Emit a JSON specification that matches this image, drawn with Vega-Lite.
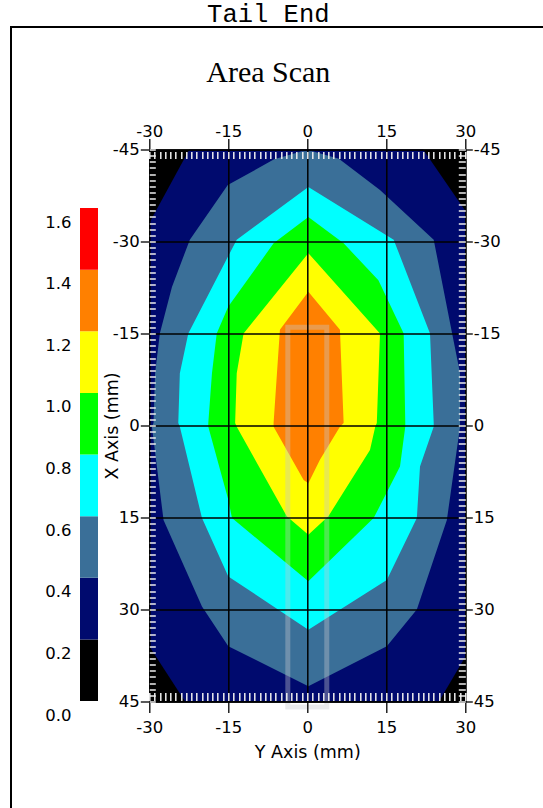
{
  "$schema": "https://vega.github.io/schema/vega-lite/v6.json",
  "width": 316,
  "height": 552,
  "autosize": {"type": "none"},
  "padding": {"left": 149.3, "top": 149.5, "right": 77.7, "bottom": 106.5},
  "background": "white",
  "title": {
    "text": "Tail End",
    "subtitle": "Area Scan",
    "anchor": "middle",
    "dx": -39,
    "font": "Liberation Mono",
    "fontSize": 25.5,
    "fontWeight": "normal",
    "color": "black",
    "subtitleFont": "Liberation Serif",
    "subtitleFontSize": 30,
    "subtitleColor": "black",
    "subtitlePadding": 31,
    "offset": -62
  },
  "datasets": {
    "contours": [
      {"level": 0.2, "i": 0, "x": -22.4, "y": -45},
      {"level": 0.2, "i": 1, "x": 22, "y": -45},
      {"level": 0.2, "i": 2, "x": 30, "y": -35},
      {"level": 0.2, "i": 3, "x": 30, "y": 37.7},
      {"level": 0.2, "i": 4, "x": 25, "y": 45},
      {"level": 0.2, "i": 5, "x": -23.2, "y": 45},
      {"level": 0.2, "i": 6, "x": -30, "y": 36},
      {"level": 0.2, "i": 7, "x": -30, "y": -33},

      {"level": 0.4, "i": 0, "x": -15.1, "y": -39.2},
      {"level": 0.4, "i": 1, "x": -6.3, "y": -43.4},
      {"level": 0.4, "i": 2, "x": -1, "y": -44.7},
      {"level": 0.4, "i": 3, "x": 1, "y": -44.7},
      {"level": 0.4, "i": 4, "x": 6, "y": -43.5},
      {"level": 0.4, "i": 5, "x": 13.8, "y": -38.4},
      {"level": 0.4, "i": 6, "x": 24, "y": -30.3},
      {"level": 0.4, "i": 7, "x": 27.5, "y": -15},
      {"level": 0.4, "i": 8, "x": 29, "y": -8.5},
      {"level": 0.4, "i": 9, "x": 29, "y": 0.2},
      {"level": 0.4, "i": 10, "x": 26.5, "y": 15.4},
      {"level": 0.4, "i": 11, "x": 20.8, "y": 30},
      {"level": 0.4, "i": 12, "x": 15.1, "y": 36},
      {"level": 0.4, "i": 13, "x": 0.2, "y": 42.5},
      {"level": 0.4, "i": 14, "x": -15, "y": 36},
      {"level": 0.4, "i": 15, "x": -20, "y": 29.5},
      {"level": 0.4, "i": 16, "x": -27.3, "y": 15.4},
      {"level": 0.4, "i": 17, "x": -29.5, "y": 0.2},
      {"level": 0.4, "i": 18, "x": -29.2, "y": -0.4},
      {"level": 0.4, "i": 19, "x": -28.9, "y": -8.5},
      {"level": 0.4, "i": 20, "x": -28, "y": -15},
      {"level": 0.4, "i": 21, "x": -25.7, "y": -22.6},
      {"level": 0.4, "i": 22, "x": -22.3, "y": -30.3},

      {"level": 0.6, "i": 0, "x": 0.2, "y": -38.9},
      {"level": 0.6, "i": 1, "x": 16.4, "y": -30.3},
      {"level": 0.6, "i": 2, "x": 23.3, "y": -15},
      {"level": 0.6, "i": 3, "x": 24, "y": -0.4},
      {"level": 0.6, "i": 4, "x": 24, "y": 0.2},
      {"level": 0.6, "i": 5, "x": 21.4, "y": 6.7},
      {"level": 0.6, "i": 6, "x": 20.8, "y": 15.1},
      {"level": 0.6, "i": 7, "x": 15.1, "y": 25.2},
      {"level": 0.6, "i": 8, "x": 0.2, "y": 33.3},
      {"level": 0.6, "i": 9, "x": -15, "y": 24.6},
      {"level": 0.6, "i": 10, "x": -20, "y": 15.1},
      {"level": 0.6, "i": 11, "x": -21.6, "y": 9.4},
      {"level": 0.6, "i": 12, "x": -24.2, "y": 0.2},
      {"level": 0.6, "i": 13, "x": -24.5, "y": -0.4},
      {"level": 0.6, "i": 14, "x": -24.2, "y": -8.5},
      {"level": 0.6, "i": 15, "x": -22.6, "y": -15},
      {"level": 0.6, "i": 16, "x": -13.4, "y": -30.3},

      {"level": 0.8, "i": 0, "x": 0.2, "y": -34},
      {"level": 0.8, "i": 1, "x": 6.9, "y": -29.7},
      {"level": 0.8, "i": 2, "x": 13.5, "y": -23.7},
      {"level": 0.8, "i": 3, "x": 18.3, "y": -15},
      {"level": 0.8, "i": 4, "x": 18.6, "y": -0.4},
      {"level": 0.8, "i": 5, "x": 18.6, "y": 0.2},
      {"level": 0.8, "i": 6, "x": 17.6, "y": 6.7},
      {"level": 0.8, "i": 7, "x": 12.6, "y": 15.1},
      {"level": 0.8, "i": 8, "x": 0.2, "y": 25.4},
      {"level": 0.8, "i": 9, "x": -14.3, "y": 15.1},
      {"level": 0.8, "i": 10, "x": -15, "y": 12.1},
      {"level": 0.8, "i": 11, "x": -18.8, "y": 0.2},
      {"level": 0.8, "i": 12, "x": -18.8, "y": -0.4},
      {"level": 0.8, "i": 13, "x": -18.1, "y": -8.5},
      {"level": 0.8, "i": 14, "x": -17.2, "y": -15},
      {"level": 0.8, "i": 15, "x": -15, "y": -19.4},
      {"level": 0.8, "i": 16, "x": -6.4, "y": -29.7},

      {"level": 1, "i": 0, "x": 0.2, "y": -28.1},
      {"level": 1, "i": 1, "x": 13.8, "y": -15},
      {"level": 1, "i": 2, "x": 13.2, "y": -0.4},
      {"level": 1, "i": 3, "x": 12.9, "y": 0.2},
      {"level": 1, "i": 4, "x": 11.9, "y": 4},
      {"level": 1, "i": 5, "x": 4, "y": 14.8},
      {"level": 1, "i": 6, "x": 0.2, "y": 17.8},
      {"level": 1, "i": 7, "x": -3.9, "y": 14.8},
      {"level": 1, "i": 8, "x": -13.4, "y": 0.2},
      {"level": 1, "i": 9, "x": -13.7, "y": -0.4},
      {"level": 1, "i": 10, "x": -13.4, "y": -8.5},
      {"level": 1, "i": 11, "x": -12.1, "y": -15},

      {"level": 1.2, "i": 0, "x": 0.2, "y": -21.8},
      {"level": 1.2, "i": 1, "x": 6.2, "y": -15.6},
      {"level": 1.2, "i": 2, "x": 6.9, "y": -0.4},
      {"level": 1.2, "i": 3, "x": 6.2, "y": 0.2},
      {"level": 1.2, "i": 4, "x": 2.4, "y": 5.6},
      {"level": 1.2, "i": 5, "x": 0.2, "y": 9.4},
      {"level": 1.2, "i": 6, "x": -0.7, "y": 8.9},
      {"level": 1.2, "i": 7, "x": -6.4, "y": 0.2},
      {"level": 1.2, "i": 8, "x": -6.4, "y": -0.4},
      {"level": 1.2, "i": 9, "x": -5.2, "y": -15.6}
    ],
    "legend": [
      {"level": 0, "hi": 0.2},
      {"level": 0.2, "hi": 0.4},
      {"level": 0.4, "hi": 0.6},
      {"level": 0.6, "hi": 0.8},
      {"level": 0.8, "hi": 1},
      {"level": 1, "hi": 1.2},
      {"level": 1.2, "hi": 1.4},
      {"level": 1.4, "hi": 1.6}
    ],
    "probe": [
      {"x1": -3.7, "x2": 3.7, "y1": -16, "y2": 45.9}
    ]
  },
  "layer": [
    {
      "data": {"values": [{}]},
      "mark": {"type": "rect", "fill": "transparent", "stroke": "black", "strokeWidth": 2},
      "encoding": {
        "x": {"datum": 0, "type": "quantitative", "scale": {"domain": [0, 1], "range": [-138.3, 420]}, "axis": null},
        "x2": {"datum": 1},
        "y": {"datum": 0, "type": "quantitative", "scale": {"domain": [0, 1], "range": [-122.5, 700]}, "axis": null},
        "y2": {"datum": 1}
      }
    },
    {
      "data": {"name": "legend"},
      "mark": {"type": "rect"},
      "encoding": {
        "x": {"datum": 0, "type": "quantitative", "scale": {"domain": [0, 1], "range": [-69.3, -51.3]}, "axis": null},
        "x2": {"datum": 1},
        "y": {
          "field": "level", "type": "quantitative",
          "scale": {"domain": [0, 1.6], "range": [551.5, 58.5], "nice": false, "zero": false},
          "axis": {"orient": "left", "offset": 69.3, "values": [0, 0.2, 0.4, 0.6, 0.8, 1, 1.2, 1.4, 1.6], "format": ".1f", "ticks": false, "domain": false, "grid": false, "labelPadding": 9, "labelOffset": 14, "title": null, "labelOverlap": false, "labelFlush": false}
        },
        "y2": {"field": "hi"},
        "fill": {"field": "level", "type": "ordinal", "scale": {"domain": [0, 0.2, 0.4, 0.6, 0.8, 1, 1.2, 1.4], "range": ["#000000", "#000a6e", "#3a6f98", "#00ffff", "#00ff00", "#ffff00", "#ff8000", "#ff0000"]}, "legend": null}
      }
    },
    {
      "resolve": {"axis": {"x": "independent", "y": "independent"}},
      "layer": [
        {
          "data": {"name": "contours"},
          "transform": [{"filter": "datum.level == 0.2"}],
          "mark": {"type": "line", "interpolate": "linear-closed", "strokeWidth": 0, "strokeOpacity": 0},
          "encoding": {
            "x": {"field": "x", "type": "quantitative", "scale": {"domain": [-30, 30], "nice": false, "zero": false},
              "axis": {"orient": "bottom", "values": [-30, -15, 0, 15, 30], "labelExpr": "'' + datum.value", "grid": true, "gridColor": "black", "gridWidth": 1.5, "gridOpacity": 1, "tickSize": 11, "tickWidth": 1.3, "labelPadding": 7, "labelFlush": false, "labelOverlap": false, "title": "Y Axis (mm)", "titlePadding": 7, "zindex": 1}},
            "y": {"field": "y", "type": "quantitative", "scale": {"domain": [-45, 45], "reverse": true, "nice": false, "zero": false},
              "axis": {"orient": "left", "values": [-45, -30, -15, 0, 15, 30, 45], "labelExpr": "'' + datum.value", "grid": true, "gridColor": "black", "gridWidth": 1.5, "gridOpacity": 1, "tickSize": 9, "tickWidth": 1.3, "labelPadding": 1, "labelFlush": false, "labelOverlap": false, "title": "X Axis (mm)", "titlePadding": -9, "zindex": 1}},
            "order": {"field": "i", "type": "quantitative"},
            "fill": {"field": "level", "type": "ordinal", "legend": null}
          }
        },
        {
          "data": {"name": "contours"},
          "transform": [{"filter": "datum.level == 0.4"}],
          "mark": {"type": "line", "interpolate": "linear-closed", "strokeWidth": 0, "strokeOpacity": 0},
          "encoding": {
            "x": {"field": "x", "type": "quantitative", "scale": {"domain": [-30, 30], "nice": false, "zero": false},
              "axis": {"orient": "top", "values": [-30, -15, 0, 15, 30], "labelExpr": "'' + datum.value", "grid": false, "tickSize": 11, "tickWidth": 1.3, "labelPadding": -1, "labelFlush": false, "labelOverlap": false, "title": null, "zindex": 1}},
            "y": {"field": "y", "type": "quantitative", "scale": {"domain": [-45, 45], "reverse": true, "nice": false, "zero": false},
              "axis": {"orient": "right", "values": [-45, -30, -15, 0, 15, 30, 45], "labelExpr": "'' + datum.value", "grid": false, "tickSize": 7, "tickWidth": 1.3, "labelPadding": 1, "labelFlush": false, "labelOverlap": false, "title": null, "zindex": 1}},
            "order": {"field": "i", "type": "quantitative"},
            "fill": {"field": "level", "type": "ordinal", "legend": null}
          }
        },
        {
          "data": {"name": "contours"},
          "transform": [{"filter": "datum.level == 0.6"}],
          "mark": {"type": "line", "interpolate": "linear-closed", "strokeWidth": 0, "strokeOpacity": 0},
          "encoding": {
            "x": {"field": "x", "type": "quantitative", "scale": {"domain": [-30, 30], "nice": false, "zero": false},
              "axis": {"orient": "bottom", "tickCount": 60, "labels": false, "domain": false, "grid": false, "tickSize": -8, "tickColor": "#eeeeee", "tickWidth": 1.5, "offset": -1, "title": null, "zindex": 2}},
            "y": {"field": "y", "type": "quantitative", "scale": {"domain": [-45, 45], "reverse": true, "nice": false, "zero": false},
              "axis": {"orient": "left", "tickCount": 90, "labels": false, "domain": false, "grid": false, "tickSize": -6, "tickColor": "#eeeeee", "tickWidth": 1.5, "offset": 0, "title": null, "zindex": 2}},
            "order": {"field": "i", "type": "quantitative"},
            "fill": {"field": "level", "type": "ordinal", "legend": null}
          }
        },
        {
          "data": {"name": "contours"},
          "transform": [{"filter": "datum.level == 0.8"}],
          "mark": {"type": "line", "interpolate": "linear-closed", "strokeWidth": 0, "strokeOpacity": 0},
          "encoding": {
            "x": {"field": "x", "type": "quantitative", "scale": {"domain": [-30, 30], "nice": false, "zero": false},
              "axis": {"orient": "top", "tickCount": 60, "labels": false, "domain": false, "grid": false, "tickSize": -7, "tickColor": "#eeeeee", "tickWidth": 1.5, "offset": -2, "title": null, "zindex": 2}},
            "y": {"field": "y", "type": "quantitative", "scale": {"domain": [-45, 45], "reverse": true, "nice": false, "zero": false},
              "axis": {"orient": "right", "tickCount": 90, "labels": false, "domain": false, "grid": false, "tickSize": -7, "tickColor": "#eeeeee", "tickWidth": 1.5, "offset": 0, "title": null, "zindex": 2}},
            "order": {"field": "i", "type": "quantitative"},
            "fill": {"field": "level", "type": "ordinal", "legend": null}
          }
        },
        {
          "data": {"name": "contours"},
          "transform": [{"filter": "datum.level == 1"}],
          "mark": {"type": "line", "interpolate": "linear-closed", "strokeWidth": 0, "strokeOpacity": 0},
          "encoding": {
            "x": {"field": "x", "type": "quantitative", "scale": {"domain": [-30, 30], "nice": false, "zero": false}, "axis": null},
            "y": {"field": "y", "type": "quantitative", "scale": {"domain": [-45, 45], "reverse": true, "nice": false, "zero": false}, "axis": null},
            "order": {"field": "i", "type": "quantitative"},
            "fill": {"field": "level", "type": "ordinal", "legend": null}
          }
        },
        {
          "data": {"name": "contours"},
          "transform": [{"filter": "datum.level == 1.2"}],
          "mark": {"type": "line", "interpolate": "linear-closed", "strokeWidth": 0, "strokeOpacity": 0},
          "encoding": {
            "x": {"field": "x", "type": "quantitative", "scale": {"domain": [-30, 30], "nice": false, "zero": false}, "axis": null},
            "y": {"field": "y", "type": "quantitative", "scale": {"domain": [-45, 45], "reverse": true, "nice": false, "zero": false}, "axis": null},
            "order": {"field": "i", "type": "quantitative"},
            "fill": {"field": "level", "type": "ordinal", "legend": null}
          }
        },
        {
          "data": {"name": "probe"},
          "mark": {"type": "rect", "fill": "transparent", "stroke": "#c4c8cc", "strokeOpacity": 0.38, "strokeWidth": 5},
          "encoding": {
            "x": {"field": "x1", "type": "quantitative", "scale": {"domain": [-30, 30], "nice": false, "zero": false}, "axis": null},
            "x2": {"field": "x2"},
            "y": {"field": "y1", "type": "quantitative", "scale": {"domain": [-45, 45], "reverse": true, "nice": false, "zero": false}, "axis": null},
            "y2": {"field": "y2"}
          }
        }
      ]
    }
  ],
  "resolve": {"scale": {"x": "independent", "y": "independent"}},
  "config": {
    "view": {"fill": "black", "stroke": "black", "strokeWidth": 1},
    "axis": {
      "labelFont": "DejaVu Sans",
      "titleFont": "DejaVu Sans",
      "labelColor": "black",
      "titleColor": "black",
      "titleFontWeight": "normal",
      "domainColor": "black",
      "tickColor": "black",
      "grid": false,
      "labelFontSize": 16.5,
      "titleFontSize": 17.5
    }
  }
}
